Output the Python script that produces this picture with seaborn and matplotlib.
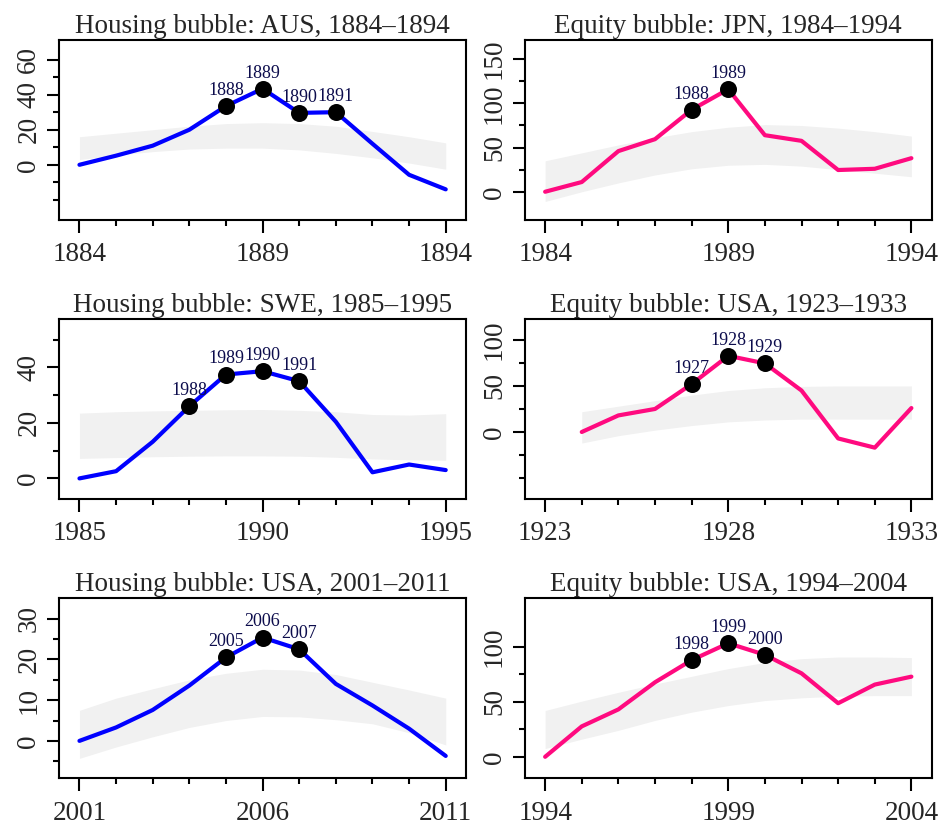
import numpy as np
import pandas as pd
import matplotlib
matplotlib.use("Agg")
import matplotlib.pyplot as plt
import seaborn as sns

# Housing bubble: AUS
aus_years = list(range(1884, 1895))
aus_values = [0, 5.2, 10.9, 20, 33.5, 43.4, 29.6, 30, 12, -5.7, -14]
aus_upper = [16, 18, 20, 22, 23.5, 24, 23.5, 22, 19, 16, 12.5]
aus_lower = [3, 5.5, 7.5, 9, 9.5, 9.5, 8.5, 6.5, 4, 1, -2.5]
aus_marked = [1888, 1889, 1890, 1891]

# Equity bubble: JPN
jpn_years = list(range(1984, 1995))
jpn_values = [0, 11, 46, 59.5, 92.8, 116, 64, 57.6, 24.6, 26, 38]
jpn_upper = [35, 44, 53, 61, 68, 73, 76, 75, 72, 68, 63]
jpn_lower = [-11, 0, 10, 19, 26, 30, 31, 29, 25, 21, 17]
jpn_marked = [1988, 1989]

# Housing bubble: SWE
swe_years = list(range(1985, 1996))
swe_values = [0, 2.6, 13.2, 26, 37.4, 38.6, 35, 20.4, 2.2, 5, 3]
swe_upper = [23.5, 24, 24.3, 24.5, 24.7, 24.8, 24.5, 24, 23, 22.8, 23.3]
swe_lower = [7.2, 7.5, 7.8, 8, 8.1, 8.1, 8, 7.6, 7, 6.7, 6.5]
swe_marked = [1988, 1989, 1990, 1991]

# Equity bubble: USA 1923-1933 (series starts in 1924)
us29_years = list(range(1924, 1934))
us29_values = [0, 18, 25, 52, 82.7, 74.5, 45, -7, -17, 26]
us29_upper = [22, 28, 34, 40, 45, 48, 49.5, 50, 50, 50]
us29_lower = [-12, -4, 2, 7, 11, 13, 14, 14, 14, 14]
us29_marked = [1927, 1928, 1929]

# Housing bubble: USA
ush_years = list(range(2001, 2012))
ush_values = [0, 3.3, 7.6, 13.6, 20.5, 25.4, 22.5, 14, 8.7, 3, -3.7]
ush_upper = [7.5, 10.5, 12.8, 15, 16.6, 17.6, 17.4, 16.3, 14.4, 12.5, 10.5]
ush_lower = [-4.3, -1.5, 1, 3.3, 5, 6, 5.9, 5.2, 4.2, 2, -1]
ush_marked = [2005, 2006, 2007]

# Equity bubble: USA 1994-2004
us00_years = list(range(1994, 2005))
us00_values = [0, 27.6, 43, 67.6, 87.7, 103, 92.5, 75.7, 48.6, 65.5, 72.7]
us00_upper = [42, 50.5, 58.5, 66, 73, 80, 85.5, 89, 90.5, 90.5, 90]
us00_lower = [7.5, 16, 24, 33, 40.5, 46.5, 51, 53.5, 55, 55.5, 55.5]
us00_marked = [1998, 1999, 2000]

titles = ["Housing bubble: AUS, 1884\u20131894", "Equity bubble: JPN, 1984\u20131994",
          "Housing bubble: SWE, 1985\u20131995", "Equity bubble: USA, 1923\u20131933",
          "Housing bubble: USA, 2001\u20132011", "Equity bubble: USA, 1994\u20132004"]
x_first = [1884, 1984, 1985, 1923, 2001, 1994]
y_major = [[0, 20, 40, 60], [0, 50, 100, 150], [0, 20, 40],
           [0, 50, 100], [0, 10, 20, 30], [0, 50, 100]]
y_minor = [np.arange(-20, 61, 10), np.arange(0, 151, 25), np.arange(0, 51, 10),
           np.arange(-50, 101, 25), np.arange(-5, 31, 5), np.arange(0, 101, 25)]
y_limits = [(-31.5, 71.3), (-32, 172), (-7.4, 57.5), (-72.7, 123), (-9.2, 35.1), (-19.5, 144)]

panels = [
    (aus_years, aus_values, aus_lower, aus_upper, aus_marked, "#0000ff"),
    (jpn_years, jpn_values, jpn_lower, jpn_upper, jpn_marked, "#ff0a7f"),
    (swe_years, swe_values, swe_lower, swe_upper, swe_marked, "#0000ff"),
    (us29_years, us29_values, us29_lower, us29_upper, us29_marked, "#ff0a7f"),
    (ush_years, ush_values, ush_lower, ush_upper, ush_marked, "#0000ff"),
    (us00_years, us00_values, us00_lower, us00_upper, us00_marked, "#ff0a7f"),
]

sns.set_style("ticks")
plt.rcParams["font.family"] = ["Liberation Serif", "DejaVu Serif"]

fig = plt.figure(figsize=(9.4, 8.25), dpi=100)

col_left = [0.0631, 0.5585]
col_width = 0.4325
row_bottom = [0.7333, 0.3952, 0.0566]
row_height = 0.2185

for i, (years, values, lower, upper, marked, color) in enumerate(panels):
    ax = fig.add_axes([col_left[i % 2], row_bottom[i // 2], col_width, row_height])
    df = pd.DataFrame({"year": years, "value": values, "lower": lower, "upper": upper})

    # simulation band
    ax.fill_between(df["year"], df["lower"], df["upper"], color="#f1f1f1", linewidth=0, zorder=1)

    # the series
    sns.lineplot(data=df, x="year", y="value", color=color, linewidth=3, ax=ax, zorder=2)

    # peak years
    peaks = df[df["year"].isin(marked)]
    sns.scatterplot(data=peaks, x="year", y="value", color="black", s=150,
                    edgecolor="black", linewidth=0, ax=ax, zorder=3)
    for _, row in peaks.iterrows():
        ax.annotate(str(int(row["year"])), (row["year"], row["value"]), xytext=(0, 8),
                    textcoords="offset points", ha="center", va="baseline",
                    fontsize=13, color="#0c0c4c", zorder=4)

    x0 = x_first[i]
    ax.set_xlim(x0 - 0.55, x0 + 10.55)
    ax.set_ylim(*y_limits[i])
    ax.set_xticks([x0, x0 + 5, x0 + 10])
    ax.set_xticks(np.arange(x0, x0 + 11), minor=True)
    ax.set_yticks(y_major[i])
    ax.set_yticks(y_minor[i], minor=True)
    ax.set_xticklabels([str(x0), str(x0 + 5), str(x0 + 10)])
    ax.set_yticklabels([str(v) for v in y_major[i]], rotation=90, va="center")
    ax.tick_params(axis="both", which="major", length=9, width=1.5, labelsize=19.5, pad=4, color="black")
    ax.tick_params(axis="both", which="minor", length=4, width=1.5, color="black")
    ax.tick_params(axis="x", which="major", pad=7)
    for sp in ax.spines.values():
        sp.set_visible(True)
        sp.set_linewidth(1.5)
        sp.set_color("black")
    ax.set_xlabel("")
    ax.set_ylabel("")
    ax.set_title(titles[i], fontsize=19.5, pad=5)

fig.savefig("out.png", dpi=100)
